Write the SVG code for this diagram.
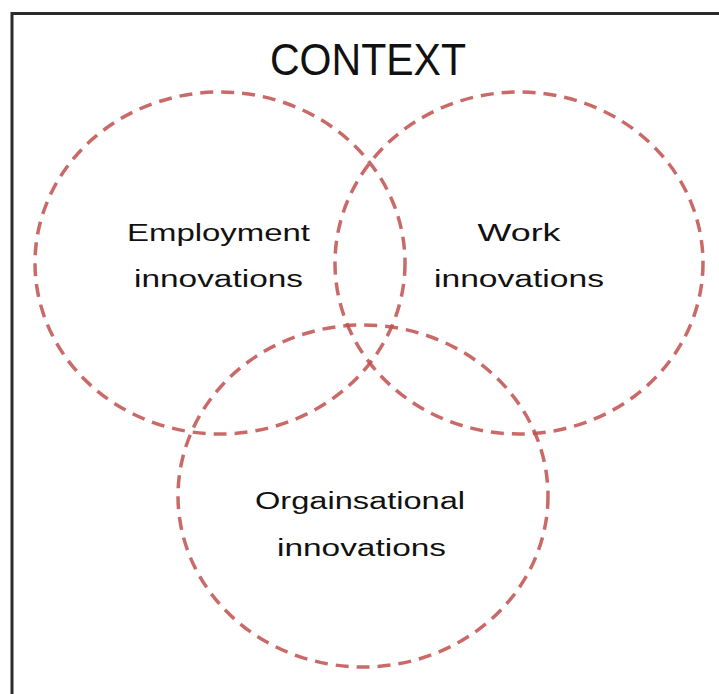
<svg xmlns="http://www.w3.org/2000/svg" width="719" height="694" viewBox="0 0 719 694">
  <style>
    .frame { fill: #ffffff; stroke: #2b2b2b; stroke-width: 3; }
    .set { fill: none; stroke: #c0504d; stroke-opacity: 0.85; stroke-width: 3.5; stroke-dasharray: 13 8; }
    .label { font-family: "Liberation Sans", Arial, sans-serif; font-size: 23px; fill: #111111; text-anchor: middle; }
    .title { font-family: "Liberation Sans", Arial, sans-serif; font-size: 44px; fill: #111111; text-anchor: middle; }
  </style>
  <rect width="719" height="694" fill="#ffffff"/>
  <!-- outer context frame (continues past the right and bottom edges) -->
  <rect class="frame" x="12" y="13.5" width="740" height="720"/>
  <text class="title" x="368" y="75" textLength="196" lengthAdjust="spacingAndGlyphs">CONTEXT</text>

  <g id="employment">
    <ellipse class="set" cx="220" cy="263" rx="185" ry="171"/>
    <text class="label" x="218.5" y="241" textLength="183" lengthAdjust="spacingAndGlyphs">Employment</text>
    <text class="label" x="218.5" y="287" textLength="169" lengthAdjust="spacingAndGlyphs">innovations</text>
  </g>

  <g id="work">
    <ellipse class="set" cx="519" cy="263" rx="184" ry="171"/>
    <text class="label" x="519" y="241" textLength="83" lengthAdjust="spacingAndGlyphs">Work</text>
    <text class="label" x="519" y="287" textLength="170" lengthAdjust="spacingAndGlyphs">innovations</text>
  </g>

  <g id="organisational">
    <ellipse class="set" cx="363" cy="496" rx="185" ry="171"/>
    <text class="label" x="360" y="509" textLength="210" lengthAdjust="spacingAndGlyphs">Orgainsational</text>
    <text class="label" x="361.5" y="556" textLength="169" lengthAdjust="spacingAndGlyphs">innovations</text>
  </g>

  <g id="connectors"></g>
</svg>
